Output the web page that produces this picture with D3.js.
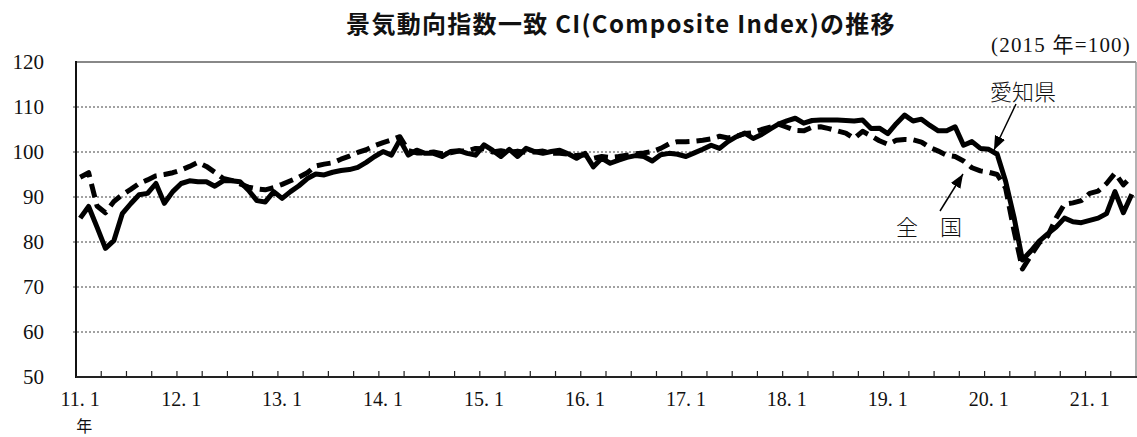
<!DOCTYPE html>
<html><head><meta charset="utf-8">
<script src="https://cdn.jsdelivr.net/npm/d3@7"></script>
<style>
body{margin:0;background:#fff;}
svg{display:block;}
</style></head>
<body>
<svg id="chart" width="1137" height="437"></svg>
<script>
const title = "景気動向指数一致 CI(Composite Index)の推移";
const unitNote = "(2015 年=100)";
const startYear = 2011;
const yTicks = [50, 60, 70, 80, 90, 100, 110, 120];
const yearLabels = ["11. 1","12. 1","13. 1","14. 1","15. 1","16. 1","17. 1","18. 1","19. 1","20. 1","21. 1"];
const seriesNames = ["愛知県", "全　国"];

// 愛知県 (solid), monthly 2011.1 - 2021.6
const aichi = [
85.3, 87.9, 83.3, 78.6, 80.3, 86.3, 88.5, 90.5, 90.8, 93.0, 88.6, 91.2,
93.0, 93.6, 93.4, 93.4, 92.4, 93.6, 93.6, 93.4, 91.5, 89.2, 88.9, 91.2,
89.7, 91.2, 92.5, 94.1, 95.1, 94.9, 95.5, 95.9, 96.1, 96.6, 97.7, 99.0,
100.1, 99.3, 102.7, 99.3, 100.4, 99.7, 99.7, 99.0, 100.1, 100.3, 99.7, 99.3,
101.6, 100.4, 99.0, 100.6, 99.0, 100.8, 100.1, 99.7, 100.1, 100.4, 99.6, 98.6,
99.7, 96.7, 98.6, 97.5, 98.2, 98.8, 99.2, 99.0, 98.0, 99.4, 99.7, 99.5,
99.0, 99.8, 100.6, 101.5, 100.8, 102.3, 103.4, 104.2, 103.0, 103.9, 105.1, 106.2,
106.9, 107.5, 106.4, 107.0, 107.1, 107.1, 107.1, 107.0, 106.9, 107.1, 105.2, 105.3,
104.1, 106.3, 108.2, 106.9, 107.3, 105.9, 104.7, 104.7, 105.6, 101.5, 102.3, 100.8,
100.6, 99.5, 93.5, 85.5, 76.0, 78.0, 80.2, 81.8, 83.3, 85.3, 84.5, 84.3,
84.8, 85.3, 86.3, 91.2, 86.5, 90.6
];
// 全国 (dashed)
const national = [
94.4, 95.4, 88.0, 86.5, 89.0, 90.5, 91.7, 93.0, 93.8, 94.7, 95.0, 95.4,
96.0, 96.8, 97.7, 96.8, 95.5, 94.1, 93.7, 92.9, 92.2, 91.8, 91.6, 92.1,
92.8, 93.6, 94.4, 95.4, 96.9, 97.3, 97.6, 98.4, 99.1, 99.9, 100.5, 101.4,
102.1, 102.7, 103.4, 100.3, 99.8, 99.8, 100.0, 99.6, 99.8, 100.2, 100.2, 100.8,
100.7, 100.0, 100.3, 99.9, 100.2, 99.9, 100.0, 100.2, 99.7, 99.7, 99.5, 99.2,
99.4, 98.6, 99.0, 98.8, 99.0, 99.3, 99.6, 99.8, 100.1, 100.8, 101.8, 102.3,
102.3, 102.4, 102.6, 102.9, 103.5, 103.1, 103.5, 104.1, 104.3, 105.0, 105.5, 106.2,
105.5, 104.8, 104.7, 105.5, 105.6, 105.2, 104.7, 104.2, 103.0, 104.6, 103.6, 102.5,
101.7, 102.6, 102.8, 102.7, 102.2, 101.0, 100.2, 99.3, 99.0, 98.0, 96.5, 95.8,
95.5, 95.0, 92.0, 82.5, 74.0, 77.0, 79.8, 81.3, 85.3, 88.4, 88.7, 89.2,
90.8, 91.3, 93.0, 95.3, 92.7, 94.6
];

const months = aichi.map((_, i) => {
  const y = startYear + Math.floor(i / 12), m = i % 12 + 1;
  return String(y).slice(2) + "." + m;
});

const svg = d3.select("#chart");
const L = 76, R = 1136, T = 62, B = 377;

const x = d3.scaleBand().domain(months).range([L, R]).paddingInner(0).paddingOuter(0);
const y = d3.scaleLinear().domain([50, 120]).range([B, T]);
const cx = m => x(m) + x.bandwidth() / 2;

const serif = "'Liberation Serif', 'Noto Sans CJK JP', serif";

// gridlines
svg.append("g").selectAll("line").data(yTicks.filter(v => v > 50 && v < 120)).join("line")
  .attr("x1", L - 3).attr("x2", R).attr("y1", d => y(d)).attr("y2", d => y(d))
  .attr("stroke", "#444").attr("stroke-width", 1).attr("stroke-dasharray", "2,2");

// frame top & right
svg.append("line").attr("x1", L).attr("x2", R).attr("y1", T).attr("y2", T)
  .attr("stroke", "#888").attr("stroke-width", 2);
svg.append("line").attr("x1", R).attr("x2", R).attr("y1", T).attr("y2", B)
  .attr("stroke", "#999").attr("stroke-width", 1.5);

// y axis labels
svg.append("g").selectAll("text").data(yTicks).join("text")
  .attr("x", 44).attr("y", d => y(d)).attr("dy", "0.35em")
  .attr("text-anchor", "end").attr("font-family", serif).attr("font-size", 21)
  .attr("fill", "#111").text(d => d);

// x ticks (every 3 months, category boundaries)
const tickMonths = months.filter((m, i) => i > 0 && i % 3 === 0);
svg.append("g").selectAll("line").data(tickMonths).join("line")
  .attr("x1", d => x(d)).attr("x2", d => x(d)).attr("y1", B).attr("y2", B - 6)
  .attr("stroke", "#222").attr("stroke-width", 1.2);

// x labels
const janMonths = months.filter((m, i) => i % 12 === 0);
svg.append("g").selectAll("text").data(janMonths).join("text")
  .attr("x", d => cx(d)).attr("y", 406).attr("text-anchor", "middle")
  .attr("font-family", serif).attr("font-size", 20).attr("fill", "#111")
  .text((d, i) => yearLabels[i]);
svg.append("text").attr("x", cx(months[0]) + 4).attr("y", 426).attr("dy", "0.35em").attr("text-anchor", "middle")
  .attr("font-family", "'Noto Sans CJK JP', sans-serif").attr("font-size", 16).attr("fill", "#111").text("年");

// axes lines
svg.append("line").attr("x1", L).attr("x2", L).attr("y1", T - 1).attr("y2", B + 1)
  .attr("stroke", "#111").attr("stroke-width", 2);
svg.append("line").attr("x1", L).attr("x2", R + 1).attr("y1", B).attr("y2", B)
  .attr("stroke", "#222").attr("stroke-width", 2);

// lines
const line = d3.line().x((d, i) => cx(months[i])).y(d => y(d));
svg.append("path").datum(national).attr("d", line).attr("fill", "none")
  .attr("stroke", "#000").attr("stroke-width", 5).attr("stroke-dasharray", "14,7")
  .attr("stroke-linejoin", "round");
svg.append("path").datum(aichi).attr("d", line).attr("fill", "none")
  .attr("stroke", "#000").attr("stroke-width", 5).attr("stroke-linejoin", "round");

// title
svg.append("text").attr("x", 621).attr("y", 25).attr("dy", "0.35em").attr("text-anchor", "middle")
  .attr("font-family", "'Noto Sans CJK JP', sans-serif").attr("font-weight", "bold")
  .attr("font-size", 24).attr("letter-spacing", 1.3).attr("fill", "#111").text(title);
svg.append("text").attr("x", 1131).attr("y", 52).attr("text-anchor", "end")
  .attr("font-family", serif).attr("font-size", 21).attr("letter-spacing", 1.2).attr("fill", "#111").text(unitNote);

// annotations
const defs = svg.append("defs");
defs.append("marker").attr("id", "ah").attr("viewBox", "0 0 10 10").attr("refX", 10).attr("refY", 5)
  .attr("markerWidth", 14).attr("markerHeight", 14).attr("markerUnits", "userSpaceOnUse").attr("orient", "auto")
  .append("path").attr("d", "M0,1 L10,5 L0,9 Z").attr("fill", "#000");

const annFont = "'Noto Sans CJK JP', sans-serif";
svg.append("text").attr("x", 1023).attr("y", 92).attr("dy", "0.35em").attr("text-anchor", "middle")
  .attr("font-family", annFont).attr("font-weight", 300).attr("font-size", 22).attr("fill", "#111").text(seriesNames[0]);
svg.append("line").attr("x1", 1016).attr("y1", 104).attr("x2", 994).attr("y2", 150)
  .attr("stroke", "#000").attr("stroke-width", 1.5).attr("marker-end", "url(#ah)");
svg.append("text").attr("x", 929).attr("y", 227).attr("dy", "0.35em").attr("text-anchor", "middle")
  .attr("font-family", annFont).attr("font-weight", 300).attr("font-size", 22).attr("fill", "#111").text(seriesNames[1]);
svg.append("line").attr("x1", 940).attr("y1", 211).attr("x2", 963).attr("y2", 174)
  .attr("stroke", "#000").attr("stroke-width", 1.5).attr("marker-end", "url(#ah)");
</script>
</body></html>
